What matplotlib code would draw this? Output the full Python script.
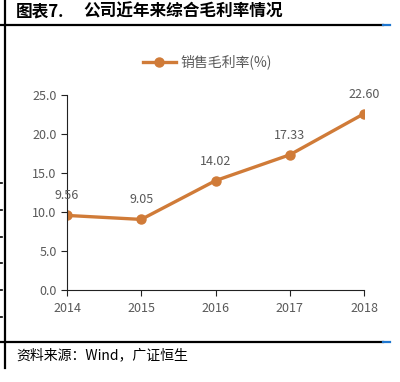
import matplotlib.pyplot as plt
from matplotlib.lines import Line2D

plt.rcParams['font.family'] = ['Noto Sans CJK SC', 'DejaVu Sans']

years = ["2014", "2015", "2016", "2017", "2018"]
margin = [9.56, 9.05, 14.02, 17.33, 22.60]
y_ticks = [0, 5, 10, 15, 20, 25]

ORANGE = "#D07B38"
GREY = "#595959"

fig = plt.figure(figsize=(4.0, 3.82), dpi=100)
ax = fig.add_axes([67 / 400, 1 - 290 / 382, (364 - 67) / 400, (290 - 95) / 382])

x = list(range(len(years)))
ax.plot(x, margin, color=ORANGE, lw=2.4, marker="o", ms=6.5,
        label="销售毛利率(%)")
for xi, v in zip(x, margin):
    ax.annotate(f"{v:.2f}", (xi, v), xytext=(0, 14), textcoords="offset points",
                ha="center", va="center", fontsize=9, color=GREY)

ax.set_xlim(0, len(years) - 1)
ax.set_ylim(0, 25)
ax.set_xticks(x)
ax.set_xticklabels(years)
ax.set_yticks(y_ticks)
ax.set_yticklabels([f"{t:.1f}" for t in y_ticks])
ax.tick_params(axis="both", direction="out", length=4, width=0.8,
               labelsize=9, labelcolor=GREY, color="#222222")
ax.tick_params(axis="x", pad=5)
for side in ["top", "right"]:
    ax.spines[side].set_visible(False)
for side in ["left", "bottom"]:
    ax.spines[side].set_color("#222222")
    ax.spines[side].set_linewidth(0.8)

leg = ax.legend(loc="center", bbox_to_anchor=(207 / 400, 1 - 62 / 382),
                bbox_transform=fig.transFigure, frameon=False, fontsize=10,
                handlelength=2.4, handletextpad=0.3)
for t in leg.get_texts():
    t.set_color(GREY)

# frame lines of the report page
fig.add_artist(Line2D([5 / 400, 5 / 400], [1, 1 - 368 / 382],
                      transform=fig.transFigure, color="black", lw=1.6))
for yy in [24.5, 342]:
    fig.add_artist(Line2D([0, 383 / 400], [1 - yy / 382] * 2,
                          transform=fig.transFigure, color="black", lw=1.6))
    fig.add_artist(Line2D([383 / 400, 390 / 400], [1 - yy / 382] * 2,
                          transform=fig.transFigure, color="#1F77D0", lw=1.6))
for yy in [183, 210, 237, 263, 290, 317]:
    fig.add_artist(Line2D([0, 2 / 400], [1 - yy / 382] * 2,
                          transform=fig.transFigure, color="black", lw=1.2))

fig.text(16 / 400, 1 - 12 / 382, "图表7.", fontsize=12, fontweight="bold",
         va="center", ha="left")
fig.text(83 / 400, 1 - 12 / 382, "公司近年来综合毛利率情况",
         fontsize=12, fontweight="bold", va="center", ha="left")
fig.text(16 / 400, 1 - 355 / 382, "资料来源：Wind，广证恒生",
         fontsize=10, va="center", ha="left")

fig.savefig("out.png", dpi=100)
